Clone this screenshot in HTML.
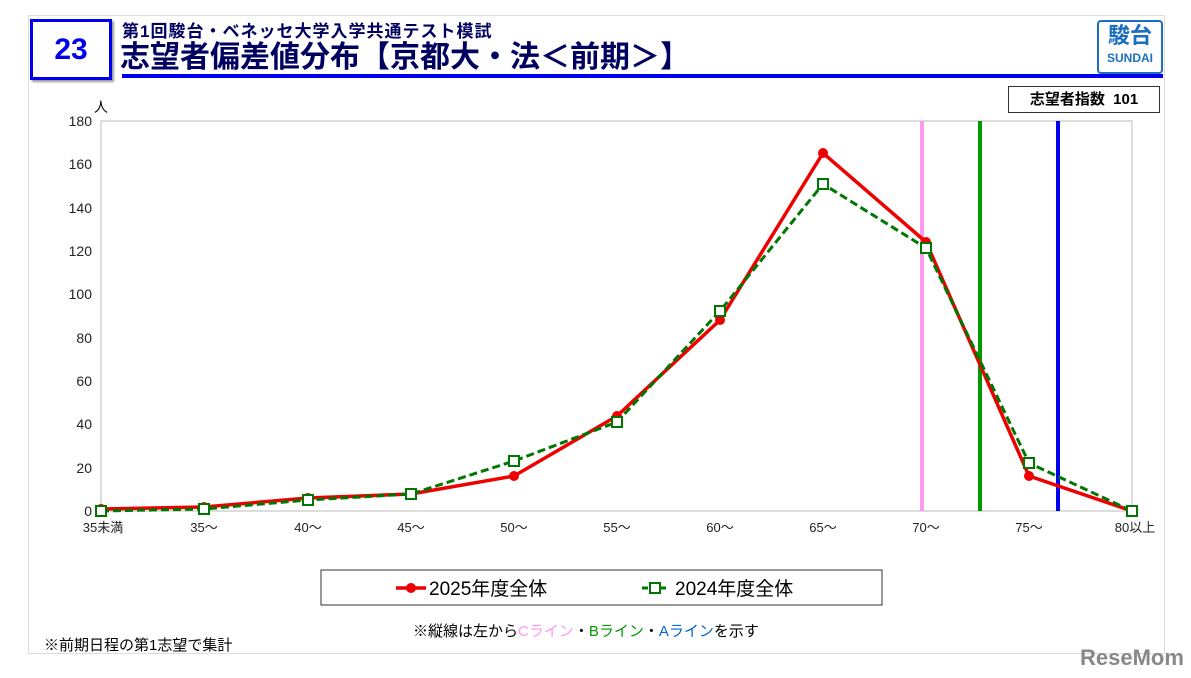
<!DOCTYPE html><html><head><meta charset="utf-8"><style>
body{margin:0;width:1191px;height:678px;background:#fff;font-family:"Liberation Sans","Noto Sans CJK JP",sans-serif;overflow:hidden;position:relative}
.a{position:absolute}
</style></head><body>
<div class="a" style="left:28px;top:15px;width:1135px;height:637px;border:1px solid #ddd"></div>
<div class="a" style="left:30px;top:19px;width:76px;height:55px;border:3px solid #0000ee;background:#fff;box-shadow:2px 2px 2px #999;text-align:center;line-height:55px;font-size:30px;font-weight:bold;color:#0000ee">23</div>
<div class="a" style="left:122px;top:17px;font-size:17px;font-weight:bold;color:#000060;white-space:nowrap;letter-spacing:1px">第1回駿台・ベネッセ大学入学共通テスト模試</div>
<div class="a" style="left:120px;top:40px;font-size:30px;font-weight:bold;color:#000060;white-space:nowrap;line-height:36px">志望者偏差値分布【京都大・法＜前期＞】</div>
<div class="a" style="left:122px;top:74px;width:1041px;height:4px;background:#0000ee"></div>
<div class="a" style="left:1097px;top:20px;width:62px;height:50px;border:2px solid #1a6fc0;border-radius:4px;text-align:center;color:#1a6fc0;font-weight:bold"><div style="font-size:22px;line-height:28px">駿台</div><div style="font-size:12px;line-height:16px">SUNDAI</div></div>
<div class="a" style="left:1008px;top:86px;width:150px;height:25px;border:1px solid #333;font-size:15px;font-weight:bold;line-height:25px;text-align:center">志望者指数&nbsp; 101</div>
<svg class="a" style="left:0;top:0" width="1191" height="678" font-family="Liberation Sans, Noto Sans CJK JP, sans-serif">
<rect x="101" y="121" width="1031" height="390" fill="none" stroke="#bbb"/>
<g font-size="14" text-anchor="end" fill="#222">
<text x="92" y="516">0</text><text x="92" y="473">20</text><text x="92" y="429">40</text><text x="92" y="386">60</text><text x="92" y="343">80</text><text x="92" y="299">100</text><text x="92" y="256">120</text><text x="92" y="213">140</text><text x="92" y="169">160</text><text x="92" y="126">180</text></g>
<text x="94" y="112" font-size="14">人</text>
<g font-size="13" text-anchor="middle" fill="#222">
<text x="103" y="532">35未満</text><text x="204" y="532">35～</text><text x="308" y="532">40～</text><text x="411" y="532">45～</text><text x="514" y="532">50～</text><text x="617" y="532">55～</text><text x="720" y="532">60～</text><text x="823" y="532">65～</text><text x="926" y="532">70～</text><text x="1029" y="532">75～</text><text x="1135" y="532">80以上</text></g>
<line x1="922" y1="121" x2="922" y2="511" stroke="#ff99ee" stroke-width="4"/>
<line x1="980" y1="121" x2="980" y2="511" stroke="#009900" stroke-width="4"/>
<line x1="1058" y1="121" x2="1058" y2="511" stroke="#0000ee" stroke-width="4"/>
<polyline fill="none" stroke="#ee0000" stroke-width="3.5" points="101,509 204,507 308,498 411,494 514,476 617,416 720,320 823,153 926,242 1029,476 1132,511"/>
<g fill="#ee0000"><circle cx="101" cy="509" r="5"/><circle cx="204" cy="507" r="5"/><circle cx="308" cy="498" r="5"/><circle cx="411" cy="494" r="5"/><circle cx="514" cy="476" r="5"/><circle cx="617" cy="416" r="5"/><circle cx="720" cy="320" r="5"/><circle cx="823" cy="153" r="5"/><circle cx="926" cy="242" r="5"/><circle cx="1029" cy="476" r="5"/><circle cx="1132" cy="511" r="5"/></g>
<polyline fill="none" stroke="#007700" stroke-width="3" stroke-dasharray="8,4" points="101,511 204,509 308,500 411,494 514,461 617,422 720,311 823,184 926,248 1029,463 1132,511"/>
<g fill="#fff" stroke="#007700" stroke-width="2"><rect x="96" y="506" width="10" height="10"/><rect x="199" y="504" width="10" height="10"/><rect x="303" y="495" width="10" height="10"/><rect x="406" y="489" width="10" height="10"/><rect x="509" y="456" width="10" height="10"/><rect x="612" y="417" width="10" height="10"/><rect x="715" y="306" width="10" height="10"/><rect x="818" y="179" width="10" height="10"/><rect x="921" y="243" width="10" height="10"/><rect x="1024" y="458" width="10" height="10"/><rect x="1127" y="506" width="10" height="10"/></g>
<rect x="321" y="570" width="561" height="35" fill="#fff" stroke="#333"/>
<line x1="396" y1="588" x2="426" y2="588" stroke="#ee0000" stroke-width="3.5"/><circle cx="411" cy="588" r="5" fill="#ee0000"/>
<text x="429" y="595" font-size="19">2025年度全体</text>
<line x1="642" y1="588" x2="668" y2="588" stroke="#007700" stroke-width="3" stroke-dasharray="6,3"/><rect x="650" y="583" width="10" height="10" fill="#fff" stroke="#007700" stroke-width="2"/>
<text x="675" y="595" font-size="19">2024年度全体</text>
<text x="413" y="636" font-size="15">※縦線は左から<tspan fill="#ff99ee">Cライン</tspan>・<tspan fill="#009900">Bライン</tspan>・<tspan fill="#0066cc">Aライン</tspan>を示す</text>
<text x="44" y="650" font-size="15">※前期日程の第1志望で集計</text>
<text x="1080" y="665" font-size="22" font-weight="bold" fill="#888">ReseMom</text>
</svg>
</body></html>
